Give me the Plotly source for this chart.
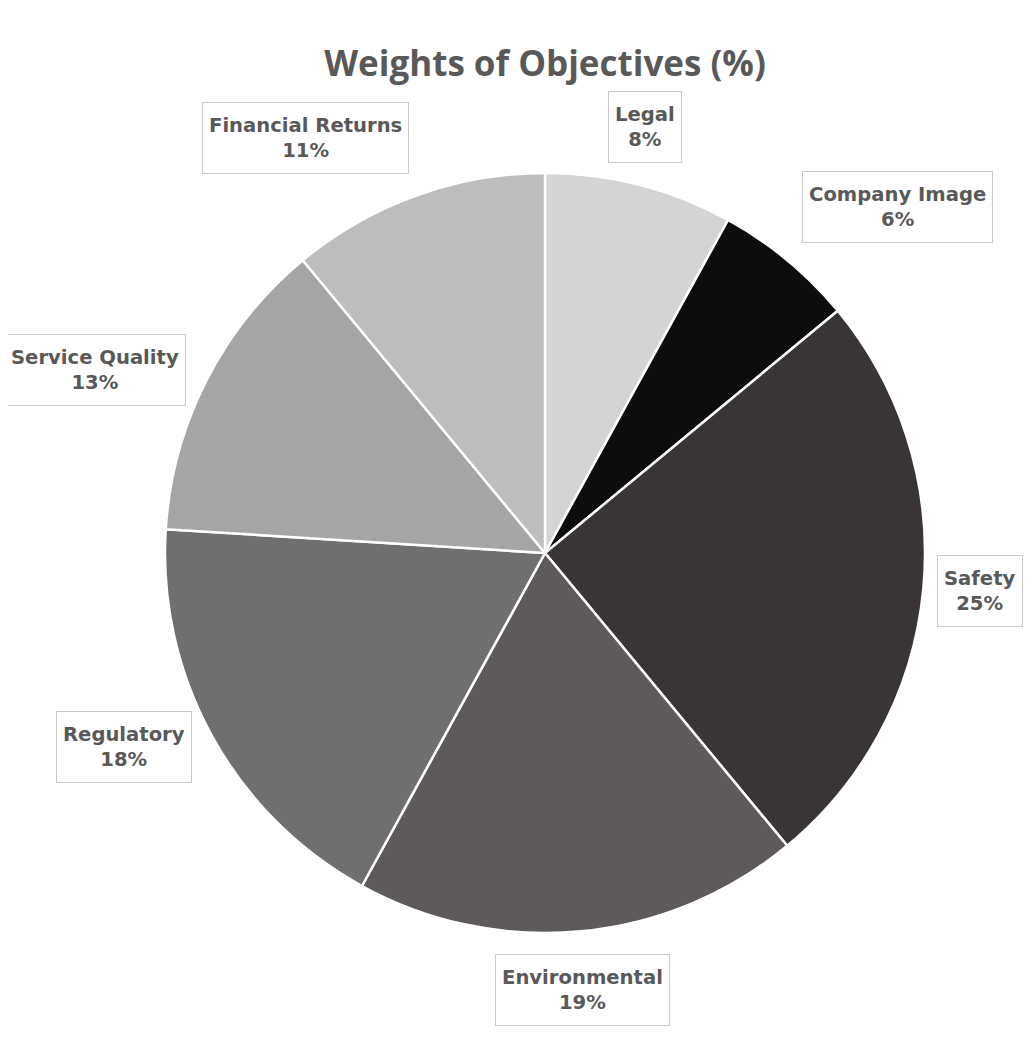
import math
import plotly.graph_objects as go

categories = ["Legal", "Company Image", "Safety", "Environmental",
              "Regulatory", "Service Quality", "Financial Returns"]
values = [8, 6, 25, 19, 18, 13, 11]
colors = ["#d4d4d4", "#0d0d0d", "#3a3535", "#5e595a",
          "#6f6f6f", "#a5a5a5", "#bdbdbd"]

W, H = 1033, 1040
cx, cy, R = 537, 545, 380  # pie centre and radius in figure pixels
FS = 19.6                  # label font size
VIS_RIGHT = 1014           # right limit of visible area (figure px)

fig = go.Figure(go.Pie(
    labels=categories, values=values, sort=False, direction="clockwise",
    rotation=0, textinfo="none", hoverinfo="label+percent",
    marker=dict(colors=colors, line=dict(color="white", width=2.5)),
    domain=dict(x=[(cx - R) / W, (cx + R) / W],
                y=[1 - (cy + R) / H, 1 - (cy - R) / H]),
    showlegend=False,
))

total = sum(values)
cum = 0
annotations = []
for cat, v in zip(categories, values):
    mid = (cum + v / 2) / total * 2 * math.pi
    cum += v
    s, c = math.sin(mid), math.cos(mid)
    r = R * 1.06
    px = cx + r * s
    py = cy - r * c
    xa = "left" if s > 0.3 else ("right" if s < -0.3 else "center")
    ya = "bottom" if c > 0.5 else ("top" if c < -0.5 else "middle")
    est_w = 0.6 * FS * len(cat) + 14
    if xa == "left":
        px = min(px, VIS_RIGHT - est_w)
    pct = round(v / total * 100)
    annotations.append(dict(
        x=px / W, y=1 - py / H, xref="paper", yref="paper",
        xanchor=xa, yanchor=ya, showarrow=False,
        text=f"<b>{cat}</b><br><b>{pct}%</b>",
        font=dict(family="DejaVu Sans", size=FS, color="#595959"),
        bgcolor="white", bordercolor="#c8c8c8", borderwidth=1, borderpad=6,
        height=58, align="center", valign="middle",
    ))

fig.update_layout(
    width=W, height=H,
    margin=dict(l=0, r=0, t=0, b=0),
    paper_bgcolor="white", plot_bgcolor="white",
    title=dict(text="<b>Weights of Objectives (%)</b>", x=cx / W, xanchor="center",
               y=1 - 56 / H, yanchor="middle",
               font=dict(family="Open Sans", size=35, color="#595959")),
    annotations=annotations,
)

fig.write_html("out.html")
